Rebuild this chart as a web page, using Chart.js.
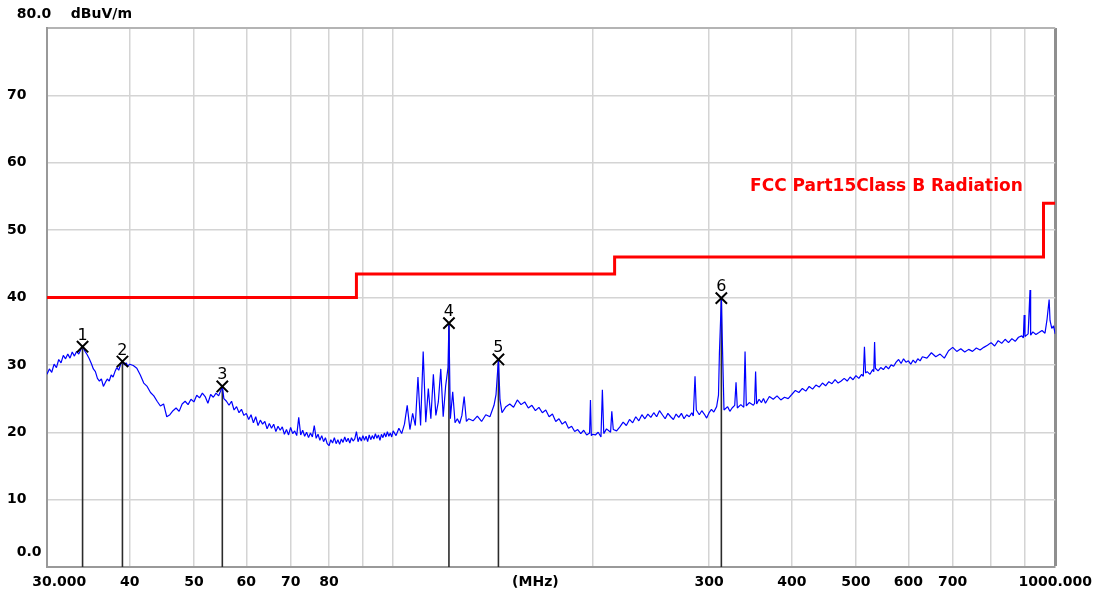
<!DOCTYPE html>
<html>
<head>
<meta charset="utf-8">
<title>Radiated emission scan</title>
<script src="https://cdn.jsdelivr.net/npm/chart.js@4.4.1/dist/chart.umd.min.js"></script>
<style>
  html, body { margin: 0; padding: 0; background: #fff; }
  #wrap { width: 1099px; height: 598px; }
</style>
</head>
<body>
<div id="wrap"><canvas id="scan" width="1099" height="598"></canvas></div>
<script>
// scan trace, MHz and dBuV/m
const traceFreq = [
  30, 30.25, 30.5, 30.75, 31, 31.25, 31.5, 31.75, 32, 32.25,
  32.5, 32.75, 33, 33.25, 33.5, 33.75, 33.95, 34.25, 34.5, 34.75,
  35, 35.25, 35.5, 35.75, 36, 36.25, 36.5, 36.75, 37, 37.25,
  37.5, 37.75, 38, 38.25, 38.5, 38.75, 39, 39.25, 39.5, 39.75,
  40, 40.5, 41, 41.5, 42, 42.5, 43, 43.5, 44, 44.5,
  45, 45.5, 46, 46.5, 47, 47.5, 48, 48.5, 49, 49.5,
  50, 50.5, 51, 51.5, 52, 52.5, 53, 53.5, 54, 54.5,
  55.2, 55.5, 56, 56.5, 57, 57.5, 58, 58.5, 59, 59.5, 60,
  60.5, 61, 61.5, 62, 62.5, 63, 63.5, 64, 64.5, 65,
  65.5, 66, 66.5, 67, 67.5, 68, 68.5, 69, 69.5, 70,
  70.5, 71, 71.5, 72, 72.5, 73, 73.5, 74, 74.5, 75,
  75.5, 76, 76.5, 77, 77.5, 78, 78.5, 79, 79.5, 80,
  80.5, 81, 81.5, 82, 82.5, 83, 83.5, 84, 84.5, 85,
  85.5, 86, 86.5, 87, 87.5, 88, 88.5, 89, 89.5, 90,
  90.5, 91, 91.5, 92, 92.5, 93, 93.5, 94, 94.5, 95,
  95.5, 96, 96.5, 97, 97.5, 98, 98.5, 99, 99.5, 100,
  101, 102, 103, 104, 105, 106, 107, 108, 109, 110,
  111, 112, 113, 114, 115, 116, 117, 118, 119, 120,
  121, 121.4, 122, 123, 124, 125, 126, 127, 128, 129, 130,
  132, 134, 136, 138, 140, 142, 143, 144.2, 145, 146,
  148, 150, 152, 154, 156, 158, 160, 162, 164, 166,
  168, 170, 172, 174, 176, 178, 180, 182, 184, 186,
  188, 190, 192, 194, 196, 198, 198.6, 199.2, 200,
  202, 204, 206, 207, 208, 210, 213, 213.9, 215, 217.5,
  220, 222.5, 225, 227.5, 230, 232.5, 235, 237.5, 240, 242.5,
  245, 247.5, 250, 252.5, 255, 257.5, 260, 262.5, 265, 267.5,
  270, 272.5, 275, 277.5, 280, 282.5, 284, 285.7, 287, 290,
  292.5, 295, 297.5, 300, 302.5, 305, 308, 310, 311, 313.1,
  314.5, 316, 320, 322.5, 325, 328, 329.5, 331, 335, 338.5,
  340, 341.5, 345, 350, 351.5, 352.7, 354, 357, 360, 362.5,
  365, 370, 375, 380, 385, 390, 395, 400, 405, 410,
  415, 420, 425, 430, 435, 440, 445, 450, 455, 460,
  465, 470, 475, 480, 485, 490, 495, 500,
  505, 510, 513, 515, 517, 520, 525, 530, 532, 533.5,
  535, 540, 545, 550, 555, 560, 565, 570, 575, 580,
  585, 590, 595, 600, 605, 610, 615, 620, 625, 630,
  640, 650, 660, 670, 680, 690, 700, 710, 720, 730,
  740, 750, 760, 770, 780, 790, 800, 810, 820, 830,
  840, 850, 860, 870, 880, 890, 895, 897.6, 900, 910,
  916, 918, 925, 935, 945, 955, 965, 972, 979, 982,
  988, 994, 1000
];
const traceLevel = [
  28.6, 29.4, 28.9, 30.1, 29.6, 30.8, 30.3, 31.4, 30.9, 31.6,
  31.0, 31.9, 31.3, 32.0, 31.6, 32.3, 32.7, 32.0, 31.5, 30.9,
  30.2, 29.4, 29.0, 28.0, 27.6, 27.9, 26.8, 27.4, 27.9, 27.6,
  28.5, 28.2, 29.0, 29.6, 29.2, 30.1, 30.5, 30.0, 30.3, 29.8,
  30.1, 29.9, 29.5, 28.5, 27.3, 26.8, 25.9, 25.4, 24.6, 23.9,
  24.2, 22.3, 22.6, 23.2, 23.6, 23.1, 24.2, 24.6, 24.1, 24.9,
  24.5, 25.5, 25.1, 25.8, 25.3, 24.3, 25.6, 25.2, 25.8, 25.4,
  26.8, 25.0, 24.6, 24.0, 24.6, 23.3, 23.8, 22.9, 23.4, 22.5, 22.8,
  21.9, 22.6, 21.4, 22.3, 21.0, 21.8, 21.2, 21.6, 20.5, 21.3,
  20.6, 21.2, 20.1, 20.9, 20.3, 20.8, 19.7, 20.4, 19.6, 20.7,
  19.8, 20.2, 19.5, 22.2, 19.6, 20.3, 19.4, 20.0, 19.2, 19.9,
  19.3, 21.0, 19.1, 19.7, 18.8, 19.5, 18.6, 19.2, 18.3, 18.0,
  18.9, 18.4, 19.2, 18.3, 18.9, 18.2, 19.0, 18.5, 19.3, 18.6,
  19.1, 18.4, 19.2, 18.7, 19.0, 20.1, 18.6, 19.3, 18.7, 19.5,
  18.8, 19.4, 18.6, 19.6, 18.9, 19.5, 19.0, 19.8, 19.1, 19.6,
  18.8, 19.7, 19.2, 19.9, 19.3, 20.1, 19.4, 19.9, 19.3, 20.2,
  19.5, 20.6, 19.8, 21.2, 24.0, 20.4, 22.8, 21.0, 28.2, 21.0,
  32.0, 21.5, 26.5, 22.0, 28.6, 22.5, 24.5, 29.4, 22.3, 26.8,
  29.6, 36.2, 22.0, 26.0, 21.4, 22.0, 21.3, 22.5, 25.3, 21.6, 22.0,
  21.7, 22.4, 21.6, 22.6, 22.3, 24.0, 25.6, 30.8, 24.8, 22.9,
  23.8, 24.2, 23.7, 24.8, 24.1, 24.5, 23.6, 24.0, 23.2, 23.7,
  22.9, 23.3, 22.3, 22.7, 21.6, 22.0, 21.2, 21.6, 20.6, 20.9,
  20.1, 20.4, 19.8, 20.3, 19.6, 19.9, 24.8, 19.5, 19.7,
  19.6, 20.0, 19.3, 26.3, 19.8, 20.5, 20.0, 23.1, 20.4, 20.2,
  20.8, 21.5, 21.0, 21.9, 21.4, 22.3, 21.7, 22.6, 22.0, 22.7,
  22.2, 22.9, 22.3, 23.2, 22.6, 22.0, 22.8, 22.3, 21.9, 22.7,
  22.2, 22.8, 22.0, 22.6, 22.3, 22.9, 22.4, 28.3, 23.3, 22.6,
  23.2, 22.7, 22.1, 22.9, 23.4, 23.0, 23.8, 25.5, 31.8, 39.9,
  31.6, 23.3, 23.8, 23.1, 23.6, 24.0, 27.4, 23.6, 24.1, 23.7,
  32.0, 23.9, 24.4, 24.0, 24.3, 29.0, 24.2, 24.9, 24.4, 25.0,
  24.3, 25.3, 24.9, 25.4, 24.8, 25.2, 25.0, 25.6, 26.2, 25.9,
  26.5, 26.1, 26.8, 26.4, 27.0, 26.7, 27.3, 26.9, 27.5, 27.2,
  27.8, 27.3, 27.6, 28.0, 27.6, 28.2, 27.8, 28.4,
  28.0, 28.6, 28.3, 32.7, 28.8, 29.0, 28.6, 29.3, 29.0, 33.4,
  29.5, 29.1, 29.6, 29.3, 29.8, 29.4, 30.0, 29.8, 30.4, 30.8,
  30.2, 30.9, 30.4, 30.6, 30.1, 30.7, 30.3, 30.9, 30.6, 31.2,
  31.0, 31.8, 31.2, 31.6, 31.0, 32.1, 32.6, 32.0, 32.4, 31.9,
  32.3, 32.0, 32.5, 32.2, 32.6, 32.9, 33.3, 32.8, 33.6, 33.2,
  33.8, 33.3, 33.9, 33.5, 34.1, 34.3, 34.0, 37.4, 34.2, 34.6,
  41.1, 34.4, 34.9, 34.5, 34.8, 35.1, 34.7, 36.8, 39.7, 36.6,
  35.4, 35.8, 34.6
];

// FCC Part 15 class B limit, level holds until the next break
const limitFreq = [30, 88, 216, 960, 1000];
const limitLevel = [40, 43.5, 46, 54, 54];

// peak markers
const markerNames = ['1', '2', '3', '4', '5', '6'];
const markerFreq = [33.95, 39.0, 55.2, 121.4, 144.2, 313.1];
const markerLevel = [32.7, 30.5, 26.8, 36.2, 30.8, 39.9];

// axis ticks; the unit sits in the x tick row, "0.0" sits a little above the bottom line
const xTickValues = [30, 40, 50, 60, 70, 80, 90, 100, 164, 200, 300, 400, 500, 600, 700, 800, 900, 1000];
const xTickLabels = ['30.000', '40', '50', '60', '70', '80', '', '', '(MHz)', '', '300', '400', '500', '600', '700', '', '', '1000.000'];
const yTickValues = [0, 2.1, 10, 20, 30, 40, 50, 60, 70, 80];
const yTickLabels = ['', '0.0', '10', '20', '30', '40', '50', '60', '70', ''];

const pairs = (xs, ys) => xs.map((x, i) => ({x: x, y: ys[i]}));

const stems = [];
markerFreq.forEach((f, i) => {
  stems.push({x: f, y: 0}, {x: f, y: markerLevel[i]}, {x: f, y: null});
});

const gridColor = '#d4d4d4';
const tickFont = {family: 'DejaVu Sans', size: 14, weight: 'bold'};

// numbers over the markers and the limit caption
const markerTags = {
  id: 'markerTags',
  afterDatasetsDraw(chart) {
    const ctx = chart.ctx;
    const meta = chart.getDatasetMeta(3);
    ctx.save();
    ctx.fillStyle = '#000';
    ctx.font = '16px "DejaVu Sans"';
    ctx.textAlign = 'center';
    ctx.textBaseline = 'alphabetic';
    meta.data.forEach((pt, i) => {
      ctx.fillText(markerNames[i], pt.x, pt.y - 7);
    });

    const cx = chart.scales.x.getPixelForValue(346);
    const cy = chart.scales.y.getPixelForValue(56.4);
    ctx.fillStyle = '#ff0000';
    ctx.font = 'bold 17px "DejaVu Sans"';
    ctx.textAlign = 'left';
    ctx.textBaseline = 'middle';
    ctx.fillText('FCC Part15Class B Radiation', cx, cy);
    ctx.restore();
  }
};

Chart.defaults.font.family = 'DejaVu Sans';

new Chart(document.getElementById('scan'), {
  type: 'line',
  data: {
    datasets: [
      {
        label: 'Scan',
        data: pairs(traceFreq, traceLevel),
        borderColor: '#0000ff',
        borderWidth: 1.2,
        borderJoinStyle: 'bevel',
        pointRadius: 0,
        order: 1
      },
      {
        label: 'FCC Part15Class B Radiation',
        data: pairs(limitFreq, limitLevel),
        borderColor: '#ff0000',
        borderWidth: 3,
        stepped: 'before',
        pointRadius: 0,
        order: 2
      },
      {
        label: 'stems',
        data: stems,
        borderColor: '#2b2b2b',
        borderWidth: 1.6,
        spanGaps: false,
        pointRadius: 0,
        order: 3
      },
      {
        label: 'markers',
        data: pairs(markerFreq, markerLevel),
        showLine: false,
        pointStyle: 'crossRot',
        pointRadius: 8,
        pointBorderWidth: 2,
        borderColor: '#000',
        backgroundColor: '#000',
        order: 0
      }
    ]
  },
  options: {
    responsive: false,
    animation: false,
    events: [],
    layout: {padding: {left: 7, right: 41, top: 0, bottom: 0}},
    plugins: {
      legend: {display: false},
      tooltip: {enabled: false},
      title: {
        display: true,
        text: '  80.0    dBuV/m',
        align: 'start',
        color: '#000',
        font: tickFont,
        padding: {top: 6, bottom: 5.2}
      }
    },
    scales: {
      x: {
        type: 'logarithmic',
        min: 30,
        max: 1000,
        afterBuildTicks: scale => { scale.ticks = xTickValues.map(v => ({value: v})); },
        afterFit: scale => { scale.height = 31; },
        ticks: {
          autoSkip: false,
          maxRotation: 0,
          minRotation: 0,
          padding: 7,
          color: '#000',
          font: tickFont,
          // leading blanks push the first label off the left corner
          callback: (v, i) => i === 0 ? '     ' + xTickLabels[i] : xTickLabels[i]
        },
        grid: {
          drawTicks: false,
          color: ctx => {
            const v = ctx.tick ? ctx.tick.value : null;
            if (v === 30 || v === 164) return 'rgba(0,0,0,0)';
            if (v === 1000) return '#8f8f8f';
            return gridColor;
          },
          lineWidth: ctx => (ctx.tick && ctx.tick.value === 1000) ? 3 : 1.5
        },
        border: {color: '#999', width: 2}
      },
      y: {
        min: 0,
        max: 80,
        afterBuildTicks: scale => { scale.ticks = yTickValues.map(v => ({value: v})); },
        afterFit: scale => { scale.width = 40; },
        ticks: {
          autoSkip: false,
          crossAlign: 'far',
          padding: 5.5,
          color: '#000',
          font: tickFont,
          callback: (v, i) => i === 1 ? '  ' + yTickLabels[i] : yTickLabels[i]
        },
        grid: {
          drawTicks: false,
          color: ctx => {
            const v = ctx.tick ? ctx.tick.value : null;
            if (v === 0 || v === 2.1) return 'rgba(0,0,0,0)';
            if (v === 80) return '#b4b4b4';
            return gridColor;
          },
          lineWidth: ctx => (ctx.tick && ctx.tick.value === 80) ? 2 : 1.5
        },
        border: {color: '#999', width: 2}
      }
    }
  },
  plugins: [markerTags]
});
</script>
</body>
</html>
